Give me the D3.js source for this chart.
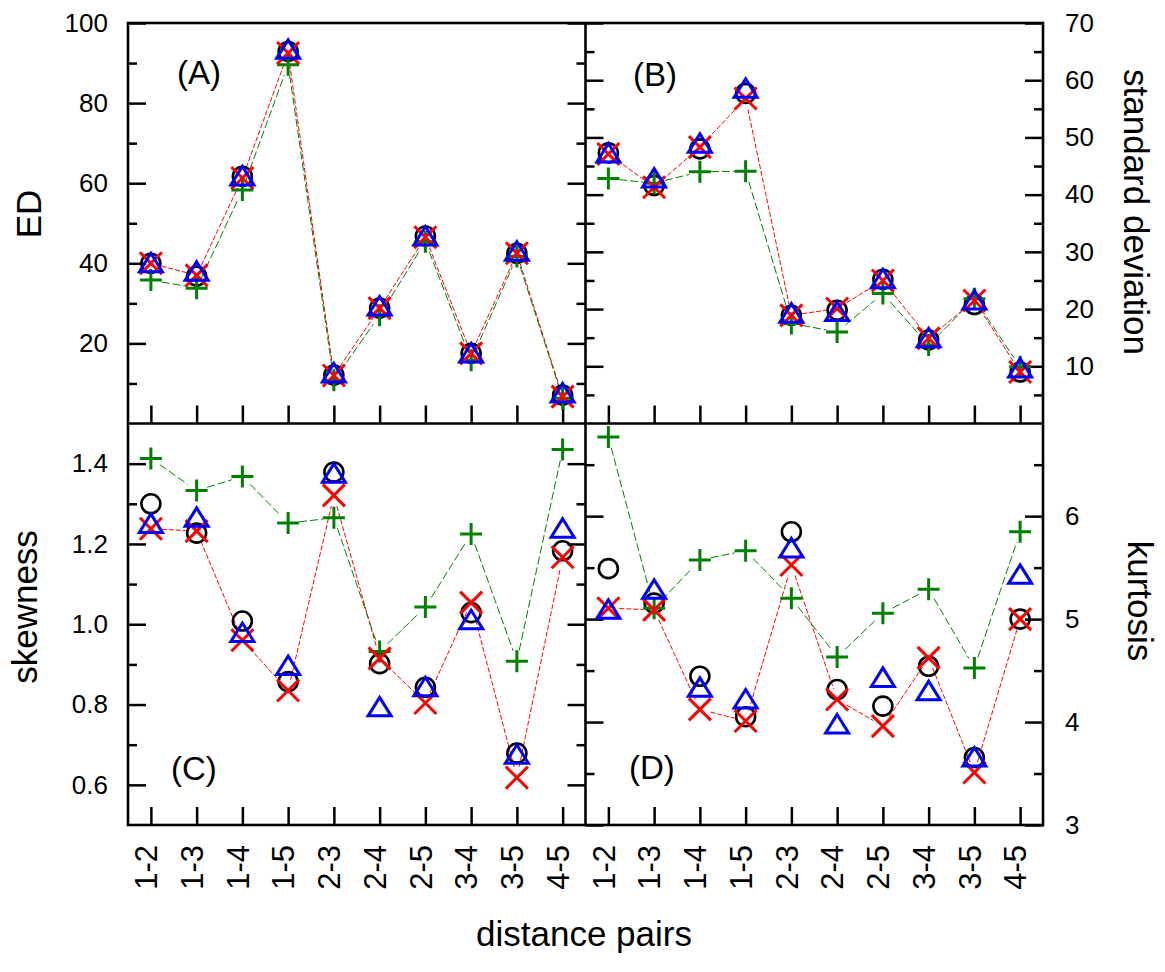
<!DOCTYPE html>
<html>
<head>
<meta charset="utf-8">
<script src="https://cdn.jsdelivr.net/npm/d3@7"></script>
<style>
  body { margin: 0; background: #fff; }
  svg text { font-family: "Liberation Sans", Arial, sans-serif; fill: #000; }
</style>
</head>
<body>
<div id="chart"></div>
<script>
// categories (distance pairs)
var cats = ["1-2", "1-3", "1-4", "1-5", "2-3", "2-4", "2-5", "3-4", "3-5", "4-5"];

// (A) ED
var edCircle = [40, 36.8, 61.7, 92.9, 12.1, 28.8, 46.8, 17.5, 42.5, 7.1];
var edCross  = [40, 37, 61.3, 92.5, 12, 28.8, 46.5, 17.5, 42.5, 6.7];
var edTri    = [40, 37.9, 61.7, 93.3, 12.5, 29.2, 46.7, 17.5, 42.9, 7.5];
var edPlus   = [35.8, 33.8, 58.3, 89.6, 10.8, 27, 45.4, 15.8, 41.7, 6.3];

// (B) standard deviation
var sdCircle = [47.3, 41.6, 48.0, 57.7, 18.9, 19.8, 25.2, 14.6, 20.8, 9.0];
var sdCross  = [47.1, 41.3, 48.3, 56.8, 18.9, 20.1, 25.0, 14.9, 21.5, 9.0];
var sdTri    = [47.2, 42.8, 48.9, 58.5, 19.2, 19.5, 25.2, 14.9, 21.5, 9.6];
var sdPlus   = [42.8, 42.0, 44.0, 44.1, 17.5, 16.0, 22.7, 13.7, 21.8, 9.9];

// (C) skewness
var skCircle = [1.30, 1.227, 1.008, 0.857, 1.379, 0.902, 0.843, 1.029, 0.679, 1.183];
var skCross  = [1.238, 1.232, 0.96, 0.835, 1.321, 0.915, 0.804, 1.054, 0.618, 1.167];
var skTri    = [1.25, 1.265, 0.978, 0.896, 1.375, 0.793, 0.843, 1.01, 0.675, 1.238];
var skPlus   = [1.413, 1.333, 1.368, 1.252, 1.265, 0.932, 1.043, 1.225, 0.908, 1.435];

// (D) kurtosis
var kuCircle = [5.49, 5.155, 4.445, 4.052, 5.848, 4.316, 4.155, 4.542, 3.655, 5.0];
var kuCross  = [5.106, 5.09, 4.123, 4.01, 5.526, 4.219, 3.961, 4.623, 3.51, 5.0];
var kuTri    = [5.09, 5.284, 4.332, 4.219, 5.687, 3.977, 4.429, 4.3, 3.655, 5.43];
var kuPlus   = [6.768, 5.106, 5.574, 5.665, 5.203, 4.632, 5.058, 5.29, 4.526, 5.848];

// tick values
var edMajor = [20, 40, 60, 80, 100], edMinor = [10, 30, 50, 70, 90];
var sdMajor = [10, 20, 30, 40, 50, 60, 70], sdMinor = [5, 15, 25, 35, 45, 55, 65];
var skMajor = [0.6, 0.8, 1.0, 1.2, 1.4], skMinor = [0.7, 0.9, 1.1, 1.3];
var kuMajor = [3, 4, 5, 6], kuMinor = [3.5, 4.5, 5.5, 6.5];

var svg = d3.select("#chart").append("svg")
    .attr("width", 1165)
    .attr("height", 972);

var left = 128, mid = 585.5, right = 1043;
var top0 = 23, midY = 423.5, bottom = 825;
var majLen = 18, minLen = 9;

var xL = d3.scalePoint().domain(cats).range([left, mid]).padding(0.5);
var xR = d3.scalePoint().domain(cats).range([mid, right]).padding(0.5);

var yA = d3.scaleLinear().domain([0, 100]).range([midY, top0]);
var yB = d3.scaleLinear().domain([0, 70]).range([midY, top0]);
var yC = d3.scaleLinear().domain([0.5, 1.5]).range([bottom, midY]);
var yD = d3.scaleLinear().domain([3, 6.9]).range([bottom, midY]);

Panel(xL, yA, edMajor, edMinor, "left", d3.format("d"), [edCircle, edCross, edTri, edPlus], "(A)", 177, 84, false);
Panel(xR, yB, sdMajor, sdMinor, "right", d3.format("d"), [sdCircle, sdCross, sdTri, sdPlus], "(B)", 633, 86, false);
Panel(xL, yC, skMajor, skMinor, "left", d3.format(".1f"), [skCircle, skCross, skTri, skPlus], "(C)", 171, 780, true);
Panel(xR, yD, kuMajor, kuMinor, "right", d3.format("d"), [kuCircle, kuCross, kuTri, kuPlus], "(D)", 629, 779, true);

// axis titles
svg.append("text").attr("transform", "translate(41,214) rotate(-90)")
    .attr("text-anchor", "middle").attr("font-size", 35).text("ED");
svg.append("text").attr("transform", "translate(37,607) rotate(-90)")
    .attr("text-anchor", "middle").attr("font-size", 35).text("skewness");
svg.append("text").attr("transform", "translate(1124,212) rotate(90)")
    .attr("text-anchor", "middle").attr("font-size", 35).text("standard deviation");
svg.append("text").attr("transform", "translate(1128,601) rotate(90)")
    .attr("text-anchor", "middle").attr("font-size", 35).text("kurtosis");
svg.append("text").attr("x", 584).attr("y", 946)
    .attr("text-anchor", "middle").attr("font-size", 35).text("distance pairs");

// outer frame and dividers
svg.append("rect").attr("x", left).attr("y", top0)
    .attr("width", right - left).attr("height", bottom - top0)
    .attr("fill", "none").attr("stroke", "#000").attr("stroke-width", 2.6);
svg.append("line").attr("x1", mid).attr("x2", mid).attr("y1", top0).attr("y2", bottom)
    .attr("stroke", "#000").attr("stroke-width", 2.6);
svg.append("line").attr("x1", left).attr("x2", right).attr("y1", midY).attr("y2", midY)
    .attr("stroke", "#000").attr("stroke-width", 2.6);

function Panel(x, y, major, minor, side, fmt, series, letter, lx, ly, xlabels)
{
    var r = y.range();
    var x0 = x.range()[0], x1 = x.range()[1];
    var yb = r[0];
    var g = svg.append("g");

    // y ticks, on both sides, pointing inward
    g.append("g").attr("transform", "translate(" + x0 + ",0)")
        .call(d3.axisLeft(y).tickValues(major).tickSizeInner(-majLen).tickSizeOuter(0)
            .tickPadding(20).tickFormat(side == "left" ? fmt : ""));
    g.append("g").attr("transform", "translate(" + x1 + ",0)")
        .call(d3.axisRight(y).tickValues(major).tickSizeInner(-majLen).tickSizeOuter(0)
            .tickPadding(22).tickFormat(side == "right" ? fmt : ""));
    g.append("g").attr("transform", "translate(" + x0 + ",0)")
        .call(d3.axisLeft(y).tickValues(minor).tickSizeInner(-minLen).tickSizeOuter(0).tickFormat(""));
    g.append("g").attr("transform", "translate(" + x1 + ",0)")
        .call(d3.axisRight(y).tickValues(minor).tickSizeInner(-minLen).tickSizeOuter(0).tickFormat(""));

    // x ticks along the bottom, pointing up
    var axB = g.append("g").attr("transform", "translate(0," + yb + ")")
        .call(d3.axisBottom(x).tickSizeInner(-majLen).tickSizeOuter(0).tickFormat(xlabels ? null : ""));

    g.selectAll(".domain").remove();
    g.selectAll(".tick line").attr("stroke", "#000").attr("stroke-width", 2.5);
    g.selectAll(".tick text").attr("font-size", 26).attr("font-family", "Liberation Sans, Arial, sans-serif");

    if (xlabels)
    {
        axB.selectAll(".tick text")
            .attr("font-size", 31)
            .attr("text-anchor", "end")
            .attr("transform", "translate(-5,0) rotate(-90)")
            .attr("x", -20)
            .attr("y", 0)
            .attr("dy", "0.35em");
    }

    // panel letter
    g.append("text").attr("x", lx).attr("y", ly).attr("font-size", 33).text(letter);

    var pts = series.map(function (s) {
        return s.map(function (v, i) { return [x(cats[i]), y(v)]; });
    });

    // connecting lines for cross (red) and plus (green) series, with gaps at the symbols
    GapLine(g, pts[1], "#ff0000", "5,2");
    GapLine(g, pts[3], "#008000", "8,3");

    // circles
    g.selectAll(null).data(pts[0]).enter().append("circle")
        .attr("cx", function (d) { return d[0]; })
        .attr("cy", function (d) { return d[1]; })
        .attr("r", 9.5)
        .attr("fill", "none").attr("stroke", "#000").attr("stroke-width", 2.6);

    // plus
    g.selectAll(null).data(pts[3]).enter().append("path")
        .attr("d", function (d) {
            return "M" + (d[0] - 11) + "," + d[1] + "H" + (d[0] + 11) +
                   "M" + d[0] + "," + (d[1] - 11) + "V" + (d[1] + 11);
        })
        .attr("fill", "none").attr("stroke", "#008000").attr("stroke-width", 3);

    // cross
    g.selectAll(null).data(pts[1]).enter().append("path")
        .attr("d", function (d) {
            return "M" + (d[0] - 11) + "," + (d[1] - 11) + "L" + (d[0] + 11) + "," + (d[1] + 11) +
                   "M" + (d[0] - 11) + "," + (d[1] + 11) + "L" + (d[0] + 11) + "," + (d[1] - 11);
        })
        .attr("fill", "none").attr("stroke", "#ff0000").attr("stroke-width", 3);

    // triangles
    g.selectAll(null).data(pts[2]).enter().append("path")
        .attr("d", function (d) {
            return "M" + d[0] + "," + (d[1] - 10) + "L" + (d[0] + 11.5) + "," + (d[1] + 8.5) +
                   "L" + (d[0] - 11.5) + "," + (d[1] + 8.5) + "Z";
        })
        .attr("fill", "none").attr("stroke", "#0000ff").attr("stroke-width", 3)
        .attr("stroke-linejoin", "miter");
}

function GapLine(g, p, cor, dash)
{
    var gap = 11;
    var i, dx, dy, len, ux, uy;
    for (i = 0; i < p.length - 1; i++)
    {
        dx = p[i + 1][0] - p[i][0];
        dy = p[i + 1][1] - p[i][1];
        len = Math.sqrt(dx * dx + dy * dy);
        if (len <= 2 * gap) continue;
        ux = dx / len; uy = dy / len;
        g.append("line")
            .attr("x1", p[i][0] + ux * gap).attr("y1", p[i][1] + uy * gap)
            .attr("x2", p[i + 1][0] - ux * gap).attr("y2", p[i + 1][1] - uy * gap)
            .attr("stroke", cor).attr("stroke-width", 1)
            .attr("stroke-dasharray", dash);
    }
}
</script>
</body>
</html>
